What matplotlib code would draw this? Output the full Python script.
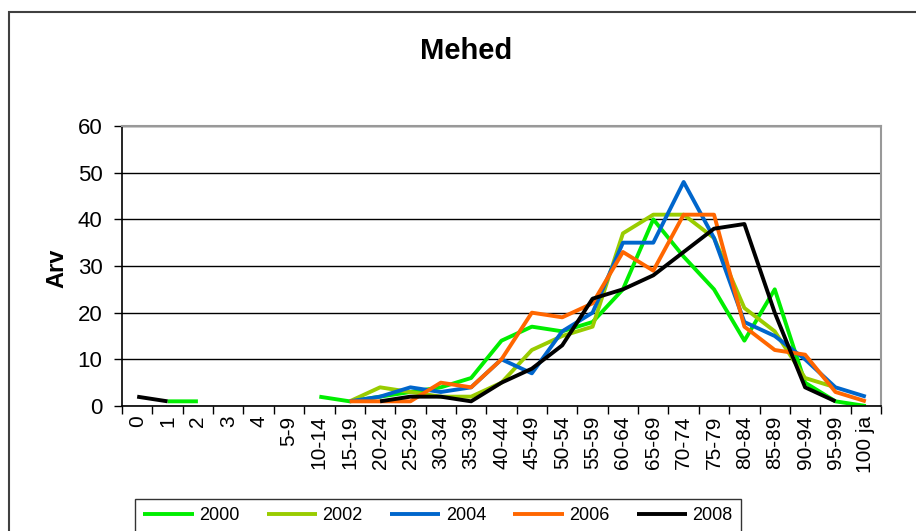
import matplotlib
matplotlib.use("Agg")
import matplotlib.pyplot as plt
import matplotlib.patches as patches
import numpy as np

plt.rcParams['font.family'] = ['Liberation Sans', 'DejaVu Sans']

nan = np.nan

age_groups = ['0', '1', '2', '3', '4', '5-9', '10-14', '15-19', '20-24', '25-29',
              '30-34', '35-39', '40-44', '45-49', '50-54', '55-59', '60-64', '65-69',
              '70-74', '75-79', '80-84', '85-89', '90-94', '95-99', '100 ja']

arv_2000 = [nan, 1, 1, nan, nan, nan, 2, 1, 2, 3, 4, 6, 14, 17, 16, 18, 25, 40,
            32, 25, 14, 25, 5, 1, 0]
arv_2002 = [nan, nan, nan, nan, nan, nan, nan, 1, 4, 3, 2, 2, 5, 12, 15, 17, 37, 41,
            41, 36, 21, 16, 6, 4, nan]
arv_2004 = [nan, nan, nan, nan, nan, nan, nan, 1, 2, 4, 3, 4, 10, 7, 16, 20, 35, 35,
            48, 36, 18, 15, 10, 4, 2]
arv_2006 = [nan, nan, nan, nan, nan, nan, nan, 1, 1, 1, 5, 4, 10, 20, 19, 22, 33, 29,
            41, 41, 17, 12, 11, 3, 1]
arv_2008 = [2, 1, nan, nan, nan, nan, nan, nan, 1, 2, 2, 1, 5, 8, 13, 23, 25, 28,
            33, 38, 39, 20, 4, 1, nan]

series = [
    ('2000', arv_2000, '#00ee00'),
    ('2002', arv_2002, '#99cc00'),
    ('2004', arv_2004, '#0066cc'),
    ('2006', arv_2006, '#ff6600'),
    ('2008', arv_2008, '#000000'),
]

W, H = 916, 531
fig = plt.figure(figsize=(W / 100, H / 100), dpi=100)

# outer chart frame (bottom/right run off the picture)
fig.patches.append(patches.Rectangle((9 / W, -0.05), 1.2, 1 - 12 / H + 0.05,
                                     transform=fig.transFigure, fill=False,
                                     edgecolor='#404040', linewidth=1.5))

ax = fig.add_axes([122 / W, 1 - 406 / H, (881 - 122) / W, (406 - 126) / H])

x = np.arange(len(age_groups))
for label, values, color in series:
    ax.plot(x, values, color=color, linewidth=2.8, label=label, solid_capstyle='butt')

ax.set_xlim(-0.5, len(age_groups) - 0.5)
ax.set_ylim(0, 60)
ax.set_yticks(range(0, 61, 10))
ax.yaxis.grid(True, color='black', linewidth=1.0)
ax.set_axisbelow(True)

ax.set_xticks(x)
ax.set_xticklabels(age_groups, rotation=90, fontsize=15)
ax.set_xticks(np.arange(-0.5, len(age_groups)), minor=True)
ax.tick_params(axis='x', which='major', length=0, pad=7)
ax.tick_params(axis='x', which='minor', length=6, width=1, color='black')
ax.tick_params(axis='y', length=6, width=1, pad=8, labelsize=16)

for side in ('top', 'right'):
    ax.spines[side].set_color('#999999')
    ax.spines[side].set_linewidth(1.5)
for side in ('left', 'bottom'):
    ax.spines[side].set_color('black')
    ax.spines[side].set_linewidth(1.2)

fig.text(466 / W, 1 - 51 / H, 'Mehed', ha='center', va='center',
         fontsize=21, fontweight='bold')
fig.text(57 / W, 1 - 268 / H, 'Arv', ha='center', va='center', rotation=90,
         fontsize=17, fontweight='bold')

leg = fig.legend(loc='upper left', bbox_to_anchor=(135 / W, 1 - 499 / H), ncol=5,
                 fontsize=13, handlelength=2.8, handletextpad=0.3, columnspacing=1.5,
                 borderpad=0.45, borderaxespad=0, frameon=True, fancybox=False,
                 edgecolor='black')
leg.get_frame().set_linewidth(1.0)

fig.savefig('out.png', dpi=100)
